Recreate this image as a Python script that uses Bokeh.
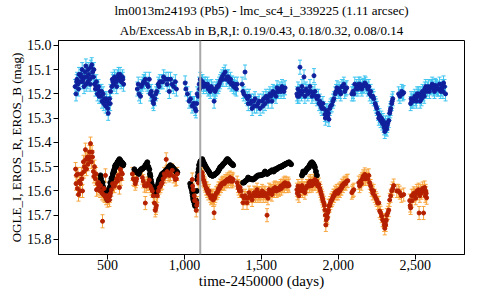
from bokeh.plotting import figure
from bokeh.models import (ColumnDataSource, Range1d, FixedTicker, NumeralTickFormatter,
                          Whisker, TeeHead, Span, Title)
from bokeh.embed import file_html
from bokeh.resources import INLINE

# ---------------- data ----------------
title_line1 = "lm0013m24193 (Pb5) - lmc_sc4_i_339225 (1.11 arcsec)"
title_line2 = "Ab/ExcessAb in B,R,I: 0.19/0.43, 0.18/0.32, 0.08/0.14"
x_label = "time-2450000 (days)"
y_label = "OGLE_I, EROS_R, EROS_B (mag)"
x_ticks = [500, 1000, 1500, 2000, 2500]
y_ticks = [15.0, 15.1, 15.2, 15.3, 15.4, 15.5, 15.6, 15.7, 15.8]
marker_day = 1103
b_err = 0.029   # typical EROS_B error
r_err = 0.027   # typical EROS_R error

# EROS B
b_t = [290, 296, 302, 308, 315, 322, 330, 336, 342, 348, 355, 360, 366, 372, 378, 385, 392, 398, 404, 410,
       416, 422, 428, 435, 442, 450, 458, 465, 472, 480, 488, 495, 502, 508, 514, 520, 528, 535, 542, 550,
       558, 566, 574, 582, 590, 598, 605,
       300, 312, 326, 338, 350, 362, 375, 388, 400, 412, 426, 438, 446, 462, 476, 492, 505, 518, 532, 546,
       560, 572, 586, 600,
       694, 705, 715, 727, 735, 746, 758, 772, 785, 792, 800, 808, 820, 830, 840, 852, 865, 880, 895, 902,
       920, 941, 948,
       700, 720, 740, 765, 778, 796, 815, 835, 860, 888, 910, 930,
       1005, 1010, 1031, 1040, 1058, 1064, 1070, 1075, 1083, 1090, 1096, 1020, 1050, 1080, 1099,
       1103, 1110, 1118, 1128, 1135, 1145, 1155, 1161, 1175, 1193, 1200, 1212, 1226, 1238, 1245, 1255, 1265,
       1278, 1291, 1300, 1310, 1320, 1330, 1343, 1375, 1381, 1394, 1400, 1410, 1420, 1430, 1440, 1450, 1459,
       1470, 1485, 1492,
       1106, 1124, 1150, 1168, 1185, 1206, 1220, 1232, 1250, 1272, 1285, 1305, 1325, 1338, 1386, 1415, 1436,
       1455, 1478,
       1505, 1515, 1524, 1537, 1550, 1556, 1569, 1580, 1589, 1602, 1612, 1621, 1634, 1647, 1654,
       1510, 1530, 1545, 1562, 1575, 1595, 1608, 1628, 1640,
       1731, 1738, 1744, 1751, 1758, 1764, 1770, 1777, 1783, 1796, 1809, 1816, 1829, 1842, 1848, 1861, 1870,
       1880, 1887, 1893, 1900, 1913, 1920, 1926, 1932, 1939, 1945, 1958, 1971, 1980, 1991, 2000, 2010, 2023,
       2036, 2048, 2055,
       1735, 1748, 1761, 1790, 1802, 1822, 1835, 1855, 1875, 1905, 1916, 1936, 1950, 1965, 1985, 2005, 2016,
       2030, 2042,
       2088, 2101, 2107, 2120, 2133, 2145, 2153, 2162, 2172, 2185, 2198, 2204, 2215, 2230, 2240, 2250, 2258,
       2263, 2275, 2285, 2295, 2302, 2310, 2315, 2322, 2328, 2334, 2340, 2347, 2354, 2392, 2412, 2425,
       2095, 2114, 2127, 2140, 2158, 2178, 2192, 2210, 2225, 2245, 2268, 2280, 2290, 2298, 2306, 2318, 2337,
       2350, 2400, 2418,
       2470, 2477, 2490, 2503, 2512, 2522, 2532, 2541, 2554, 2562, 2574, 2585, 2600, 2610, 2619, 2630, 2639,
       2650, 2665, 2675, 2684, 2697,
       2473, 2485, 2497, 2507, 2517, 2527, 2537, 2547, 2558, 2568, 2580, 2592, 2605, 2615, 2625, 2635, 2645,
       2658, 2670, 2680, 2690]
b_mag = [15.17, 15.20, 15.14, 15.16, 15.12, 15.15, 15.13, 15.10, 15.14, 15.17, 15.11, 15.085, 15.13, 15.15,
         15.12, 15.14, 15.09, 15.08, 15.11, 15.13, 15.16, 15.18, 15.15, 15.20, 15.17, 15.19, 15.21, 15.23,
         15.20, 15.22, 15.25, 15.23, 15.26, 15.24, 15.22, 15.19, 15.17, 15.15, 15.16, 15.14, 15.15, 15.13,
         15.14, 15.12, 15.15, 15.13, 15.16,
         15.15, 15.18, 15.12, 15.15, 15.13, 15.16, 15.10, 15.16, 15.13, 15.10, 15.17, 15.18, 15.21, 15.19,
         15.24, 15.22, 15.28, 15.24, 15.14, 15.13, 15.17, 15.12, 15.14, 15.14,
         15.18, 15.20, 15.21, 15.16, 15.15, 15.14, 15.16, 15.14, 15.19, 15.21, 15.24, 15.22, 15.19, 15.16,
         15.15, 15.15, 15.13, 15.14, 15.14, 15.19, 15.16, 15.15, 15.18,
         15.16, 15.17, 15.15, 15.17, 15.20, 15.23, 15.20, 15.17, 15.15, 15.16, 15.14, 15.17,
         15.155, 15.18, 15.23, 15.22, 15.24, 15.24, 15.26, 15.27, 15.20, 15.21, 15.16, 15.20, 15.25, 15.24,
         15.18,
         15.14, 15.15, 15.15, 15.16, 15.16, 15.17, 15.18, 15.175, 15.17, 15.23, 15.19, 15.17, 15.16, 15.14,
         15.13, 15.12, 15.11, 15.13, 15.15, 15.14, 15.155, 15.17, 15.175, 15.16, 15.16, 15.19, 15.11, 15.21,
         15.22, 15.21, 15.24, 15.26, 15.23, 15.22, 15.25, 15.23, 15.26,
         15.16, 15.17, 15.16, 15.19, 15.18, 15.18, 15.17, 15.15, 15.14, 15.14, 15.13, 15.16, 15.16, 15.18,
         15.20, 15.24, 15.23, 15.25, 15.24,
         15.23, 15.22, 15.24, 15.22, 15.21, 15.20, 15.23, 15.20, 15.195, 15.175, 15.19, 15.18, 15.17, 15.19,
         15.175,
         15.25, 15.21, 15.23, 15.21, 15.19, 15.21, 15.19, 15.19, 15.18,
         15.20, 15.18, 15.21, 15.09, 15.19, 15.17, 15.19, 15.13, 15.21, 15.19, 15.19, 15.17, 15.21, 15.125,
         15.19, 15.22, 15.21, 15.23, 15.25, 15.26, 15.24, 15.285, 15.27, 15.27, 15.29, 15.305, 15.26, 15.245,
         15.22, 15.20, 15.175, 15.19, 15.19, 15.17, 15.16, 15.18, 15.175,
         15.21, 15.19, 15.20, 15.18, 15.20, 15.19, 15.20, 15.21, 15.24, 15.26, 15.30, 15.28, 15.25, 15.23,
         15.19, 15.18, 15.20, 15.17, 15.19,
         15.20, 15.20, 15.16, 15.17, 15.16, 15.17, 15.18, 15.165, 15.155, 15.17, 15.17, 15.20, 15.21, 15.22,
         15.24, 15.26, 15.28, 15.30, 15.31, 15.32, 15.33, 15.355, 15.34, 15.345, 15.32, 15.31, 15.28, 15.26,
         15.24, 15.22, 15.20, 15.19, 15.195,
         15.19, 15.18, 15.18, 15.16, 15.17, 15.16, 15.18, 15.19, 15.21, 15.25, 15.29, 15.30, 15.31, 15.34,
         15.32, 15.33, 15.27, 15.23, 15.21, 15.20,
         15.24, 15.23, 15.22, 15.22, 15.20, 15.20, 15.23, 15.22, 15.20, 15.18, 15.19, 15.17, 15.175, 15.16,
         15.18, 15.165, 15.175, 15.18, 15.19, 15.17, 15.155, 15.20,
         15.22, 15.23, 15.21, 15.23, 15.21, 15.21, 15.20, 15.19, 15.21, 15.17, 15.18, 15.19, 15.17, 15.17,
         15.19, 15.17, 15.18, 15.16, 15.18, 15.19, 15.17]

# EROS R
r_t = [293, 299, 305, 312, 318, 325, 331, 338, 344, 350, 357, 364, 370, 377, 384, 390, 396, 403, 409, 416,
       422, 429, 436, 442, 449, 455, 461, 468, 474, 481, 487, 494, 500, 506, 513, 520, 526, 539, 552, 560,
       571, 578, 584, 591, 597,
       296, 308, 322, 334, 347, 360, 373, 387, 400, 412, 426, 438, 452, 465, 478, 491, 503, 517, 533, 546,
       565, 588,
       662, 675, 681, 690, 727, 740, 746, 758, 772, 785, 792, 805, 811, 818, 824, 837, 850, 856, 869, 882,
       895, 902, 921, 941, 954,
       668, 686, 733, 752, 765, 778, 798, 815, 830, 845, 862, 875, 888, 910, 930, 948,
       1051, 1057, 1064, 1070, 1077, 1084, 1090, 1096, 1054, 1067, 1080, 1093,
       1116, 1122, 1128, 1135, 1142, 1148, 1155, 1168, 1178, 1187, 1193, 1200, 1213, 1222, 1232, 1242, 1252,
       1265, 1278, 1290, 1297, 1310, 1317,
       1112, 1119, 1132, 1145, 1160, 1173, 1182, 1196, 1206, 1218, 1228, 1238, 1248, 1260, 1272, 1284, 1302,
       1313,
       1343, 1352, 1362, 1375, 1381, 1394, 1407, 1420, 1430, 1440, 1453, 1462, 1472, 1482, 1492, 1505, 1518,
       1530, 1537, 1543, 1550, 1560, 1569, 1580, 1589, 1600, 1615, 1625, 1634, 1645, 1654, 1668, 1680,
       1348, 1358, 1368, 1388, 1400, 1414, 1425, 1436, 1447, 1458, 1467, 1478, 1488, 1500, 1512, 1524, 1547,
       1555, 1565, 1575, 1585, 1595, 1608, 1620, 1630, 1640, 1650, 1662, 1675,
       1731, 1738, 1744, 1752, 1764, 1772, 1783, 1796, 1809, 1818, 1829, 1838, 1848, 1860, 1874, 1884, 1893,
       1900, 1906, 1913, 1919, 1926, 1932, 1939, 1948, 1958, 1968, 1978, 1990, 2004, 2015, 2023, 2035, 2043,
       2055, 2062, 2088, 2101,
       1734, 1741, 1748, 1758, 1768, 1778, 1790, 1802, 1814, 1824, 1834, 1843, 1854, 1866, 1880, 1888, 1897,
       1910, 1916, 1922, 1929, 1936, 1944, 1953, 1963, 1973, 1985, 1998, 2010, 2020, 2030, 2048, 2094,
       2133, 2145, 2153, 2162, 2172, 2185, 2198, 2204, 2217, 2230, 2237, 2250, 2263, 2269, 2282, 2295, 2302,
       2308, 2315, 2328, 2334, 2347, 2360, 2380, 2399, 2425,
       2138, 2150, 2158, 2167, 2178, 2192, 2210, 2224, 2244, 2256, 2275, 2288, 2298, 2305, 2312, 2322, 2340,
       2354, 2390, 2410,
       2464, 2470, 2477, 2490, 2496, 2510, 2522, 2525, 2541, 2548, 2554, 2561, 2568, 2574,
       2467, 2480, 2486, 2503, 2516, 2530, 2535, 2558, 2565, 2571]
r_mag = [15.51, 15.535, 15.59, 15.615, 15.56, 15.57, 15.53, 15.60, 15.48, 15.50, 15.43, 15.51, 15.46, 15.47,
         15.44, 15.405, 15.48, 15.46, 15.52, 15.50, 15.55, 15.595, 15.57, 15.565, 15.58, 15.578, 15.60,
         15.725, 15.615, 15.62, 15.536, 15.62, 15.64, 15.628, 15.637, 15.61, 15.595, 15.58, 15.566, 15.55,
         15.536, 15.586, 15.511, 15.524, 15.53,
         15.57, 15.53, 15.60, 15.55, 15.52, 15.47, 15.49, 15.46, 15.44, 15.54, 15.53, 15.59, 15.60, 15.61,
         15.59, 15.63, 15.62, 15.62, 15.57, 15.58, 15.56, 15.55,
         15.53, 15.555, 15.57, 15.55, 15.545, 15.578, 15.65, 15.57, 15.555, 15.59, 15.60, 15.65, 15.68,
         15.66, 15.62, 15.586, 15.57, 15.566, 15.53, 15.47, 15.53, 15.536, 15.515, 15.553, 15.53,
         15.55, 15.56, 15.56, 15.58, 15.57, 15.58, 15.62, 15.67, 15.60, 15.58, 15.55, 15.54, 15.52, 15.53,
         15.54, 15.55,
         15.553, 15.595, 15.62, 15.637, 15.68, 15.65, 15.566, 15.536, 15.58, 15.64, 15.66, 15.55,
         15.524, 15.553, 15.56, 15.578, 15.59, 15.60, 15.61, 15.62, 15.625, 15.637, 15.69, 15.62, 15.607,
         15.59, 15.578, 15.57, 15.566, 15.56, 15.553, 15.55, 15.545, 15.55, 15.553,
         15.53, 15.54, 15.57, 15.59, 15.60, 15.63, 15.62, 15.63, 15.61, 15.60, 15.59, 15.58, 15.57, 15.57,
         15.56, 15.56, 15.56, 15.56,
         15.566, 15.59, 15.586, 15.62, 15.649, 15.62, 15.649, 15.607, 15.62, 15.637, 15.607, 15.62, 15.595,
         15.61, 15.62, 15.60, 15.607, 15.62, 15.70, 15.63, 15.595, 15.60, 15.615, 15.59, 15.586, 15.60,
         15.595, 15.58, 15.578, 15.57, 15.566, 15.58, 15.578,
         15.58, 15.60, 15.60, 15.63, 15.63, 15.63, 15.62, 15.62, 15.62, 15.61, 15.61, 15.62, 15.61, 15.61,
         15.62, 15.61, 15.61, 15.61, 15.60, 15.60, 15.60, 15.59, 15.59, 15.59, 15.59, 15.58, 15.58, 15.57,
         15.57,
         15.595, 15.58, 15.62, 15.60, 15.578, 15.59, 15.607, 15.58, 15.566, 15.56, 15.578, 15.56, 15.553,
         15.56, 15.574, 15.60, 15.62, 15.64, 15.649, 15.679, 15.74, 15.704, 15.69, 15.662, 15.65, 15.637,
         15.62, 15.607, 15.60, 15.595, 15.59, 15.578, 15.57, 15.566, 15.56, 15.558, 15.607, 15.595,
         15.61, 15.60, 15.59, 15.59, 15.60, 15.59, 15.59, 15.58, 15.58, 15.57, 15.57, 15.57, 15.57, 15.58,
         15.59, 15.61, 15.63, 15.66, 15.70, 15.72, 15.71, 15.68, 15.66, 15.64, 15.63, 15.62, 15.61, 15.61,
         15.60, 15.59, 15.58, 15.57, 15.60,
         15.566, 15.56, 15.553, 15.54, 15.532, 15.54, 15.536, 15.566, 15.595, 15.60, 15.62, 15.637, 15.649,
         15.683, 15.704, 15.725, 15.754, 15.74, 15.70, 15.679, 15.637, 15.60, 15.578, 15.60, 15.607, 15.615,
         15.58, 15.57, 15.55, 15.55, 15.55, 15.55, 15.58, 15.61, 15.63, 15.65, 15.69, 15.72, 15.74, 15.73,
         15.72, 15.69, 15.62, 15.59, 15.60, 15.62,
         15.64, 15.67, 15.62, 15.61, 15.615, 15.60, 15.595, 15.691, 15.607, 15.59, 15.691, 15.586, 15.60,
         15.628,
         15.66, 15.64, 15.62, 15.63, 15.61, 15.62, 15.60, 15.60, 15.62, 15.61]

# OGLE I
i_t = [455, 462, 468, 470, 475, 481, 487, 490, 494, 500, 506, 510, 513, 519, 520, 526, 532, 535, 540, 545,
       552, 558, 560, 565, 572, 578, 580, 585, 591, 598, 604,
       458, 465, 472, 478, 484, 497, 503, 516, 523, 529, 543, 549, 555, 568, 575, 588, 595, 601,
       675, 685, 694, 704, 714, 726, 740, 752, 759, 765, 772, 779, 785, 792, 798, 805, 811, 818, 824, 830,
       837, 844, 850, 860, 869, 880, 889, 900, 908, 920, 934, 945, 954,
       680, 698, 709, 720, 733, 746, 776, 782, 788, 795, 802, 808, 814, 821, 827, 834, 840, 855, 865, 875,
       885, 895, 915, 927, 940, 950,
       1038, 1044, 1051, 1057, 1064, 1070, 1076, 1083, 1090, 1096,
       1041, 1048, 1054, 1060, 1067, 1073, 1080, 1086, 1093, 1099,
       1103, 1110, 1116, 1122, 1130, 1138, 1148, 1158, 1168, 1178, 1187, 1200, 1213, 1222, 1232, 1242, 1252,
       1265, 1278, 1288, 1297, 1307, 1317,
       1106, 1113, 1119, 1126, 1134, 1143, 1153, 1163, 1173, 1183, 1193, 1206, 1218, 1227, 1237, 1247, 1258,
       1271, 1283, 1292, 1302, 1312,
       1381, 1395, 1414, 1430, 1446, 1462, 1479, 1495, 1511, 1524, 1537, 1550, 1560, 1569, 1580, 1589, 1600,
       1615, 1625, 1634, 1645, 1654, 1668, 1680, 1693,
       1388, 1405, 1422, 1438, 1454, 1470, 1487, 1503, 1517, 1530, 1543, 1555, 1565, 1575, 1585, 1595, 1607,
       1620, 1630, 1640, 1650, 1661, 1674, 1686,
       1764, 1772, 1783, 1796, 1809, 1818, 1829, 1838, 1848, 1861,
       1768, 1778, 1790, 1802, 1813, 1823, 1834, 1843, 1855]
i_mag = [15.536, 15.566, 15.566, 15.58, 15.59, 15.595, 15.615, 15.605, 15.625, 15.637, 15.607, 15.62, 15.595,
         15.566, 15.58, 15.55, 15.545, 15.53, 15.52, 15.511, 15.494, 15.49, 15.50, 15.482, 15.475, 15.469,
         15.485, 15.475, 15.482, 15.485, 15.49,
         15.55, 15.575, 15.59, 15.60, 15.61, 15.63, 15.625, 15.585, 15.565, 15.545, 15.52, 15.50, 15.495,
         15.48, 15.48, 15.48, 15.49, 15.495,
         15.511, 15.52, 15.524, 15.53, 15.515, 15.51, 15.503, 15.49, 15.482, 15.50, 15.511, 15.54, 15.566,
         15.58, 15.595, 15.60, 15.615, 15.60, 15.586, 15.57, 15.553, 15.545, 15.536, 15.53, 15.524, 15.515,
         15.511, 15.50, 15.494, 15.50, 15.511, 15.52, 15.524,
         15.52, 15.525, 15.52, 15.51, 15.505, 15.495, 15.53, 15.555, 15.575, 15.59, 15.60, 15.605, 15.61,
         15.595, 15.58, 15.56, 15.55, 15.53, 15.525, 15.52, 15.515, 15.505, 15.50, 15.505, 15.515, 15.52,
         15.57, 15.586, 15.607, 15.632, 15.645, 15.662, 15.64, 15.553, 15.524, 15.494,
         15.58, 15.595, 15.62, 15.64, 15.655, 15.65, 15.60, 15.54, 15.51, 15.49,
         15.48, 15.475, 15.469, 15.482, 15.49, 15.50, 15.511, 15.52, 15.532, 15.536, 15.536, 15.53, 15.524,
         15.515, 15.503, 15.498, 15.49, 15.482, 15.469, 15.474, 15.482, 15.488, 15.494,
         15.478, 15.472, 15.475, 15.485, 15.495, 15.505, 15.515, 15.525, 15.535, 15.538, 15.535, 15.528,
         15.52, 15.51, 15.50, 15.494, 15.486, 15.475, 15.47, 15.478, 15.485, 15.49,
         15.566, 15.56, 15.545, 15.55, 15.553, 15.545, 15.536, 15.535, 15.532, 15.52, 15.53, 15.524, 15.52,
         15.515, 15.52, 15.511, 15.51, 15.503, 15.50, 15.498, 15.494, 15.49, 15.486, 15.482, 15.49,
         15.565, 15.555, 15.55, 15.552, 15.55, 15.54, 15.536, 15.534, 15.528, 15.525, 15.527, 15.522, 15.518,
         15.518, 15.515, 15.512, 15.506, 15.502, 15.50, 15.496, 15.492, 15.488, 15.484, 15.486,
         15.536, 15.52, 15.524, 15.51, 15.503, 15.49, 15.482, 15.49, 15.503, 15.536,
         15.53, 15.522, 15.515, 15.505, 15.495, 15.485, 15.486, 15.495, 15.52]

# ---------------- plot ----------------
FONT = "Liberation Serif"
B_DOT, B_BAR = "#10209c", "#3cc4f0"
R_DOT, R_BAR = "#b42000", "#f8a43c"

def with_bounds(t, m, e):
    return ColumnDataSource(dict(t=t, mag=m, lo=[a - e for a in m], hi=[a + e for a in m]))

p = figure(width=470, height=291, output_backend="svg", toolbar_location=None,
           x_range=Range1d(182, 2820), y_range=Range1d(15.862, 14.98),
           min_border_left=58, min_border_right=6, min_border_top=32, min_border_bottom=10)
p.title.text = ""
p.add_layout(Title(text=title_line2, align="center", text_font=FONT, text_font_size="13px",
                   text_font_style="normal", text_color="black", standoff=6), "above")
p.add_layout(Title(text=title_line1, align="center", text_font=FONT, text_font_size="13px",
                   text_font_style="normal", text_color="black", standoff=0), "above")

p.xgrid.visible = False
p.ygrid.visible = False
p.outline_line_color = "black"
p.outline_line_width = 1

p.add_layout(Span(location=marker_day, dimension="height", line_color="#a8a8a8", line_width=2))

src_i = ColumnDataSource(dict(t=i_t, mag=i_mag))
p.scatter("t", "mag", source=src_i, size=5, color="black")

src_r = with_bounds(r_t, r_mag, r_err)
p.add_layout(Whisker(source=src_r, base="t", lower="lo", upper="hi", line_color=R_BAR, line_width=1,
                     upper_head=TeeHead(size=4, line_color=R_BAR, line_width=1),
                     lower_head=TeeHead(size=4, line_color=R_BAR, line_width=1)))
p.scatter("t", "mag", source=src_r, size=4, color=R_DOT)

src_b = with_bounds(b_t, b_mag, b_err)
p.add_layout(Whisker(source=src_b, base="t", lower="lo", upper="hi", line_color=B_BAR, line_width=1,
                     upper_head=TeeHead(size=4, line_color=B_BAR, line_width=1),
                     lower_head=TeeHead(size=4, line_color=B_BAR, line_width=1)))
p.scatter("t", "mag", source=src_b, size=4, color=B_DOT)

for ax in (p.xaxis[0], p.yaxis[0]):
    ax.axis_label_text_font = FONT
    ax.axis_label_text_font_style = "normal"
    ax.axis_label_text_color = "black"
    ax.major_label_text_font = FONT
    ax.major_label_text_font_size = "14px"
    ax.major_label_text_color = "black"
    ax.axis_line_color = "black"
    ax.major_tick_line_color = "black"
    ax.major_tick_out = 5
    ax.major_tick_in = 0
    ax.minor_tick_line_color = None

p.xaxis[0].axis_label = x_label
p.xaxis[0].axis_label_text_font_size = "15px"
p.xaxis[0].axis_label_standoff = 0
p.xaxis[0].major_label_standoff = 0
p.xaxis[0].ticker = FixedTicker(ticks=x_ticks)
p.xaxis[0].formatter = NumeralTickFormatter(format="0,0")

p.yaxis[0].axis_label = y_label
p.yaxis[0].axis_label_text_font_size = "13px"
p.yaxis[0].axis_label_standoff = 0
p.yaxis[0].major_label_standoff = 2
p.yaxis[0].ticker = FixedTicker(ticks=y_ticks)
p.yaxis[0].formatter = NumeralTickFormatter(format="0.0")

open("out.html", "w").write(file_html(p, INLINE))
